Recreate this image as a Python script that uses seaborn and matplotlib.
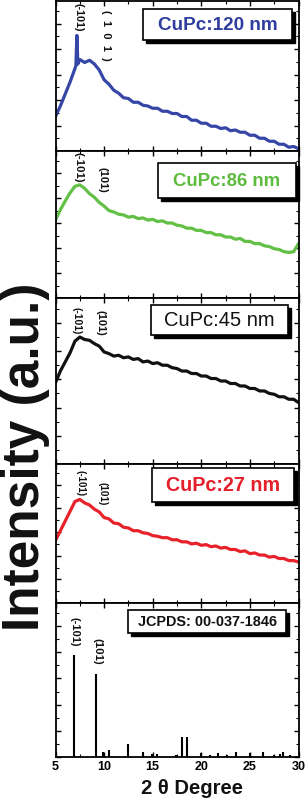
import numpy as np
import pandas as pd
import matplotlib
matplotlib.use("Agg")
import matplotlib.pyplot as plt
import seaborn as sns
from matplotlib.patches import Rectangle
from matplotlib.ticker import MultipleLocator

# ---------------- data (intensity in a.u., 0-100 per panel) ----------------
two_theta = [5.0, 5.5, 6.0, 6.5, 7.0, 7.5, 8.0, 8.5, 9.0, 9.5, 10.0, 10.5, 11.0, 11.5,
             12.0, 12.5, 13.0, 13.5, 14.0, 14.5, 15.0, 15.5, 16.0, 16.5, 17.0, 17.5,
             18.0, 18.5, 19.0, 19.5, 20.0, 20.5, 21.0, 21.5, 22.0, 22.5, 23.0, 23.5,
             24.0, 24.5, 25.0, 25.5, 26.0, 26.5, 27.0, 27.5, 28.0, 28.5, 29.0, 29.5, 30.0]

two_theta_120 = [5.0, 5.5, 6.0, 6.5, 7.0, 7.1, 7.2, 7.3, 7.5, 8.0, 8.5, 9.0, 9.5, 10.0,
                 10.5, 11.0, 11.5, 12.0, 12.5, 13.0, 13.5, 14.0, 14.5, 15.0, 15.5, 16.0,
                 16.5, 17.0, 17.5, 18.0, 18.5, 19.0, 19.5, 20.0, 20.5, 21.0, 21.5, 22.0,
                 22.5, 23.0, 23.5, 24.0, 24.5, 25.0, 25.5, 26.0, 26.5, 27.0, 27.5, 28.0,
                 28.5, 29.0, 29.5, 30.0]
int_120 = [23, 30, 38, 46, 55, 57, 77, 58, 61, 59, 60.5, 58, 54, 47.5,
           44.5, 40.5, 38.5, 35.5, 35, 32.5, 32.5, 30.5, 30, 28.5, 28.5, 26.5,
           26.5, 25, 25, 23, 23, 20.5, 20.5, 18.5, 18.5, 16.5, 16.5, 15,
           15.5, 13.5, 14, 12.5, 12.5, 10.5, 10.5, 8.5, 8.5, 6.5, 6.5, 4.5,
           4.5, 2.5, 3, 1.5]

int_86 = [53, 60, 66, 71.5, 76, 77, 74.5, 71, 68.5, 65, 62.5, 59.5, 58.5, 57,
          56.5, 55, 55.5, 54, 54.5, 53, 53.5, 52, 52.5, 51, 51, 49.5,
          49, 47.5, 47.5, 46, 46, 44.5, 44.5, 43, 43, 41.5, 41.5, 40,
          40.5, 38.5, 38.5, 37, 37, 35.5, 35, 33.5, 33, 31.5, 31, 31.5, 37]

int_45 = [49, 56, 61.5, 67, 74, 76.5, 75, 74.5, 72.5, 71, 67.5, 66.5, 65, 65.5,
          64, 64.5, 63, 63.5, 61.5, 62, 60.5, 61, 59.5, 59.5, 58, 57.5,
          56, 56, 54.5, 54.5, 53, 53, 51.5, 51.5, 50, 50, 48.5, 48.5,
          47, 47, 45.5, 45.5, 44, 44, 42.5, 42, 40.5, 40.5, 39, 39, 37]

int_27 = [45, 52, 59, 66, 73, 74.5, 72, 70.5, 67.5, 65.5, 61.5, 60.5, 57.5, 57,
          54.5, 54, 52, 52, 50.5, 50, 48.5, 48, 47, 47, 45.5, 45.5,
          44, 44, 42.5, 43, 41.5, 42, 40.5, 41, 39.5, 40, 38.5, 38.5,
          37, 37.5, 35.5, 36, 34.5, 34.5, 33, 33.5, 32, 32, 30.5, 30.5, 29.5]

jcpds_pos = [6.95, 9.15, 9.9, 10.5, 12.5, 14.0, 14.9, 15.4, 17.4, 18.05, 18.55,
             20.0, 20.9, 21.7, 22.6, 23.6, 25.0, 26.3, 27.5, 28.05, 28.4, 29.1]
jcpds_int = [66, 54, 3, 4.5, 8.5, 3, 2, 2, 1.5, 13, 13,
             2.5, 1.5, 2.5, 1.5, 3.5, 2.5, 3, 1.5, 2, 3, 1.5]

titles = ["CuPc:120 nm", "CuPc:86 nm", "CuPc:45 nm", "CuPc:27 nm", "JCPDS: 00-037-1846"]
peak_labels = ["(-101)", "(101)"]
x_ticks = [5, 10, 15, 20, 25, 30]

# ---------------- style ----------------
sns.set_theme(style="ticks")
plt.rcParams['font.family'] = ['Liberation Sans', 'DejaVu Sans']
plt.rcParams['font.weight'] = 'bold'

W, H = 307, 801
fig = plt.figure(figsize=(W / 100, H / 100), dpi=100)
L, R = 55.5, 298.5
bounds = [(1, 151), (151, 298), (298, 464), (464, 603), (603, 757)]

line_colors = ["#3646a6", "#62c046", "#111111", "#e8222a"]
text_colors = ["#2e3d9f", "#5dbb3e", "#111111", "#e4202a"]
curves = [(two_theta_120, int_120), (two_theta, int_86), (two_theta, int_45), (two_theta, int_27)]

axes = []
for i, (top, bot) in enumerate(bounds):
    ax = fig.add_axes([L / W, 1 - bot / H, (R - L) / W, (bot - top) / H])
    axes.append(ax)
    if i < 4:
        xs, ys = curves[i]
        df = pd.DataFrame({"two_theta": xs, "intensity": ys})
        sns.lineplot(data=df, x="two_theta", y="intensity", ax=ax, color=line_colors[i],
                     lw=2.3, estimator=None, sort=False)
    else:
        ax.vlines(jcpds_pos, 0, jcpds_int, color="black", lw=1.5)
    ax.set_xlim(5, 30)
    ax.set_ylim(0, 100)
    ax.set_xlabel("")
    ax.set_ylabel("")
    ax.xaxis.set_major_locator(MultipleLocator(5))
    ax.xaxis.set_minor_locator(MultipleLocator(2.5))
    ax.yaxis.set_major_locator(MultipleLocator(17))
    ax.yaxis.set_minor_locator(MultipleLocator(8.5))
    ax.tick_params(which="both", direction="in", top=True, right=True, bottom=True, left=True,
                   labelleft=False, color="black")
    ax.tick_params(which="major", length=3.5, width=1.0)
    ax.tick_params(which="minor", length=2.0, width=0.8)
    for s in ax.spines.values():
        s.set_linewidth(1.3)
        s.set_color("black")
    if i < 4:
        ax.tick_params(labelbottom=False)
    else:
        ax.set_xticks(x_ticks)
        ax.set_xticklabels([str(t) for t in x_ticks])
        ax.tick_params(labelsize=9, pad=3, labelcolor="black")
        for lbl in ax.get_xticklabels():
            lbl.set_fontweight("bold")


def fx(px):
    return px / W


def fy(py):
    return 1 - py / H


# ---------------- title boxes with drop shadow ----------------
boxes = [(143, 9, 292, 40), (158, 163, 296, 198), (151, 305, 288, 335),
         (152, 468, 294, 502), (128, 610, 286, 633)]
sizes = [13.6, 13.4, 14.5, 14.2, 10.4]
weights = ["bold", "bold", "normal", "bold", "bold"]
tcols = text_colors + ["#111111"]
for (x0, y0, x1, y1), t, sz, wt, c in zip(boxes, titles, sizes, weights, tcols):
    sh = 2.8
    fig.add_artist(Rectangle((fx(x0 + sh), fy(y1 + sh)), (x1 - x0) / W, (y1 - y0) / H,
                             transform=fig.transFigure, facecolor="black", edgecolor="black",
                             lw=1.0, zorder=5))
    fig.add_artist(Rectangle((fx(x0), fy(y1)), (x1 - x0) / W, (y1 - y0) / H,
                             transform=fig.transFigure, facecolor="white", edgecolor="black",
                             lw=1.2, zorder=6))
    fig.text(fx((x0 + x1) / 2), fy((y0 + y1) / 2 + 0.5), t, color=c, fontsize=sz, fontweight=wt,
             ha="center", va="center", zorder=7)

# ---------------- peak labels (rotated) ----------------
peak_pos = [
    [(78, 3, peak_labels[0], 7.8), (106, 10, "(  1  0  1  )", 8.0)],
    [(78, 152, peak_labels[0], 8.2), (103, 167, peak_labels[1], 8.0)],
    [(76, 307, peak_labels[0], 7.5), (101, 310, peak_labels[1], 8.0)],
    [(80, 470, peak_labels[0], 7.0), (103, 482, peak_labels[1], 7.2)],
    [(75, 617, peak_labels[0], 8.0), (97, 638, peak_labels[1], 8.2)],
]
for plist in peak_pos:
    for (px, py, lab, sz) in plist:
        fig.text(fx(px), fy(py), lab, rotation=270, fontsize=sz, fontweight="bold",
                 family=["Liberation Sans", "DejaVu Sans"],
                 ha="center", va="top", color="#111111", zorder=8)

# ---------------- axis labels ----------------
fig.text(fx(26), fy(457), "Intensity (a.u.)", rotation=90, fontsize=37, fontweight="bold",
         ha="center", va="center", color="#111111")
fig.text(fx(192), fy(789), "2 θ Degree", fontsize=14.5, fontweight="bold",
         ha="center", va="center", color="#111111")

fig.savefig("out.png", dpi=100)
